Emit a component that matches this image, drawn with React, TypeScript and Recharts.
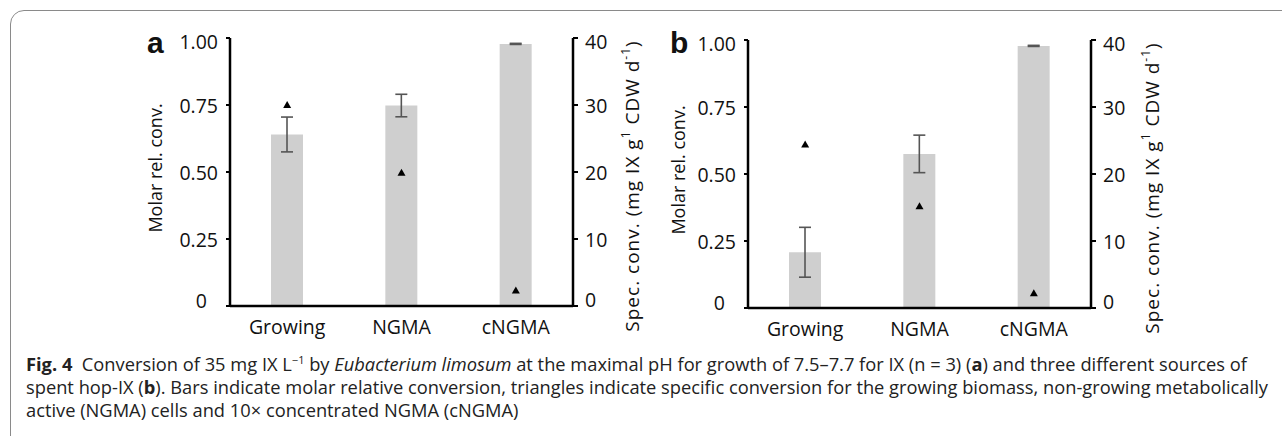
import React from 'react'
import { ComposedChart, Bar, Scatter, XAxis, YAxis, ErrorBar, Label } from 'recharts'

const categories = ['Growing', 'NGMA', 'cNGMA']

// panel a
const molarA = [0.64, 0.748, 0.978]
const molarErrA = [0.065, 0.042, 0.002]
const specA = [30, 19.9, 2.3]

// panel b
const molarB = [0.208, 0.575, 0.978]
const molarErrB = [0.093, 0.07, 0.002]
const specB = [24.4, 15.2, 2.2]

const leftTicks = [0, 0.25, 0.5, 0.75, 1]
const rightTicks = [0, 10, 20, 30, 40]

const FONT = '"Open Sans", sans-serif'
const INK = '#111'
const TICK_SIZE = 19.5

function buildRows(mol: number[], err: number[], spec: number[]) {
  return categories.map((c, i) => ({ cat: c, mol: mol[i], err: err[i], spec: spec[i] }))
}

function LeftTick(props: any) {
  const { x, y, payload } = props
  const v = payload.value
  const dy = v === 0 ? -6 : v === 1 ? 3 : 0
  const dx = v === 0 ? -11 : 0
  return (
    <text x={x + dx} y={y + dy} textAnchor="end" dominantBaseline="central" fontSize={TICK_SIZE} fill={INK} fontFamily={FONT}>
      {v === 0 ? '0' : v.toFixed(2)}
    </text>
  )
}

function RightTick(props: any) {
  const { x, y, payload } = props
  const v = payload.value
  const dy = v === 0 ? -7 : v === 40 ? 3 : 0
  return (
    <text x={x} y={y + dy} textAnchor="start" dominantBaseline="central" fontSize={TICK_SIZE} fill={INK} fontFamily={FONT}>
      {v}
    </text>
  )
}

const leftLabel = (gap: number) => (props: any) => {
  const vb = props.viewBox
  const cx = vb.x + vb.width - gap
  const cy = vb.y + vb.height / 2 - 4
  return (
    <text x={cx} y={cy} transform={`rotate(-90 ${cx} ${cy})`} textAnchor="middle" dominantBaseline="central" fontSize={18} fill={INK} fontFamily={FONT}>
      Molar rel. conv.
    </text>
  )
}

const rightLabel = (gap: number) => (props: any) => {
  const vb = props.viewBox
  const cx = vb.x + gap
  const cy = vb.y + vb.height / 2 + 14
  return (
    <text x={cx} y={cy} transform={`rotate(-90 ${cx} ${cy})`} textAnchor="middle" dominantBaseline="central" fontSize={19} letterSpacing={1} fill={INK} fontFamily={FONT}>
      Spec. conv. (mg IX g<tspan dy={-7} fontSize={12}>1</tspan>
      <tspan dy={7}> CDW d</tspan>
      <tspan dy={-7} fontSize={12}>-1</tspan>
      <tspan dy={7}>)</tspan>
    </text>
  )
}

const triangle = (props: any) => {
  const { cx, cy } = props
  if (cx == null || cy == null) return null
  return <polygon points={`${cx},${cy - 4} ${cx + 4},${cy + 3} ${cx - 4},${cy + 3}`} fill="#000" />
}

function Panel({ rows, left, top, leftGap, rightGap }: any) {
  return (
    <div style={{ position: 'absolute', left, top }}>
      <ComposedChart width={680} height={345} data={rows} margin={{ top: 38, right: 57, bottom: 0, left: 170 }}>
        <XAxis
          dataKey="cat"
          height={39}
          tickLine={false}
          tickSize={0}
          tickMargin={14}
          axisLine={{ stroke: '#000', strokeWidth: 2.5 }}
          tick={{ fontSize: TICK_SIZE, fill: INK, fontFamily: FONT }}
        />
        <YAxis
          yAxisId="left"
          width={60}
          domain={[0, 1]}
          ticks={leftTicks}
          tickSize={4}
          tickMargin={8}
          axisLine={{ stroke: '#000', strokeWidth: 2.5 }}
          tickLine={{ stroke: '#000', strokeWidth: 2 }}
          tick={<LeftTick />}
        >
          <Label content={leftLabel(leftGap)} />
        </YAxis>
        <YAxis
          yAxisId="right"
          orientation="right"
          width={50}
          domain={[0, 40]}
          ticks={rightTicks}
          tickSize={5}
          tickMargin={7}
          axisLine={{ stroke: '#000', strokeWidth: 2.5 }}
          tickLine={{ stroke: '#000', strokeWidth: 2 }}
          tick={<RightTick />}
        >
          <Label content={rightLabel(rightGap)} />
        </YAxis>
        <Bar dataKey="mol" yAxisId="left" fill="#cfcfcf" barSize={32} isAnimationActive={false}>
          <ErrorBar dataKey="err" width={6} stroke="#555" strokeWidth={1.6} direction="y" />
        </Bar>
        <Scatter dataKey="spec" yAxisId="right" shape={triangle} isAnimationActive={false} />
      </ComposedChart>
    </div>
  )
}

export default function App() {
  const rowsA = buildRows(molarA, molarErrA, specA)
  const rowsB = buildRows(molarB, molarErrB, specB)
  const letterStyle: React.CSSProperties = {
    position: 'absolute',
    top: 28,
    fontFamily: '"Liberation Sans", Arial, sans-serif',
    fontWeight: 700,
    fontSize: 30,
    lineHeight: '30px',
    color: '#111'
  }
  return (
    <div style={{ position: 'absolute', left: 0, top: 0, width: 1282, height: 436, overflow: 'hidden', background: '#fff', fontFamily: FONT }}>
      <div
        style={{
          position: 'absolute',
          left: 10,
          top: 10,
          width: 1400,
          height: 600,
          border: '1.5px solid #8a8a8a',
          borderTopLeftRadius: 14,
          boxSizing: 'border-box'
        }}
      />
      <Panel rows={rowsA} left={0} top={0} leftGap={75} rightGap={59} />
      <Panel rows={rowsB} left={518} top={2} leftGap={70} rightGap={61} />
      <div style={{ ...letterStyle, left: 147 }}>a</div>
      <div style={{ ...letterStyle, left: 670 }}>b</div>
      <div style={{ position: 'absolute', left: 26, top: 352, width: 1250, fontSize: 18.3, lineHeight: '23px', color: '#222', whiteSpace: 'nowrap' }}>
        <b>Fig. 4</b>&nbsp; Conversion of 35 mg IX L<sup style={{ fontSize: 11, lineHeight: 0 }}>−1</sup> by <i>Eubacterium limosum</i> at the maximal pH for growth of 7.5–7.7 for IX (n = 3) (<b>a</b>) and three different sources of
        <br />
        spent hop-IX (<b>b</b>). Bars indicate molar relative conversion, triangles indicate specific conversion for the growing biomass, non-growing metabolically
        <br />
        active (NGMA) cells and 10× concentrated NGMA (cNGMA)
      </div>
    </div>
  )
}
